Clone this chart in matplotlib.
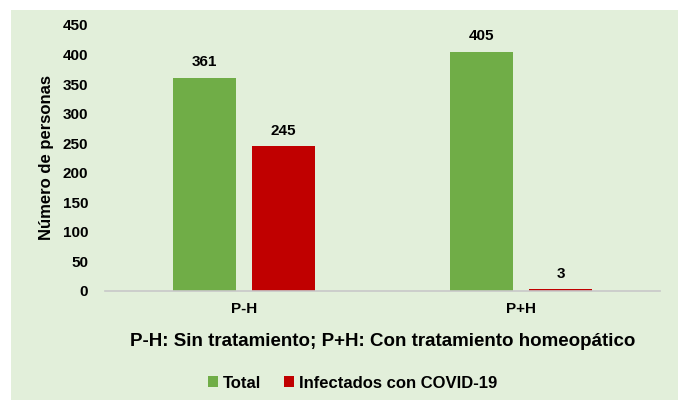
import matplotlib.pyplot as plt
import numpy as np
from matplotlib.patches import Rectangle

categories = ['P-H', 'P+H']
total = [361, 405]
infectados = [245, 3]
series_names = ['Total', 'Infectados con COVID-19']
yticks = [0, 50, 100, 150, 200, 250, 300, 350, 400, 450]

plt.rcParams['font.family'] = ['Liberation Sans Narrow', 'Liberation Sans', 'DejaVu Sans']
plt.rcParams['font.weight'] = 'bold'

bg = '#e2efda'
green = '#70ad47'
red = '#c00000'

fig = plt.figure(figsize=(6.78, 4.0), dpi=100)
fig.patches.append(Rectangle((11 / 678, 0), 1, 390 / 400, transform=fig.transFigure,
                             facecolor=bg, edgecolor='none', zorder=-10))

ax = fig.add_axes([105 / 678, (400 - 291) / 400, 555 / 678, 266 / 400])
ax.set_facecolor('none')

x = np.arange(len(categories))
w = 0.227
off = 0.142
b1 = ax.bar(x - off, total, w, color=green, label=series_names[0])
b2 = ax.bar(x + off, infectados, w, color=red, label=series_names[1])

for bars in (b1, b2):
    for r in bars:
        ax.text(r.get_x() + r.get_width() / 2, r.get_height() + 14, str(int(r.get_height())),
                ha='center', va='bottom', fontsize=11, fontweight='bold')

ax.set_xlim(-0.5, 1.5)
ax.set_ylim(0, 450)
ax.set_yticks(yticks)
ax.set_xticks(x)
ax.set_xticklabels(categories)
ax.tick_params(axis='both', length=0, labelsize=11)
ax.tick_params(axis='y', pad=12)
ax.tick_params(axis='x', pad=8)
for s in ['top', 'right', 'left']:
    ax.spines[s].set_visible(False)
ax.spines['bottom'].set_color('#c8c8c8')
ax.spines['bottom'].set_linewidth(1.2)

ax.set_ylabel('Número de personas', fontsize=12, fontweight='bold', labelpad=6)
ax.set_xlabel('P-H: Sin tratamiento; P+H: Con tratamiento homeopático', fontsize=13.5,
              fontweight='bold', labelpad=12)

fig.legend(loc='center', bbox_to_anchor=(0.52, (400 - 383) / 400), ncol=2, frameon=False,
           fontsize=12, handlelength=0.6, handleheight=0.6, handletextpad=0.3, columnspacing=1.4)

fig.savefig('out.png', dpi=100)
